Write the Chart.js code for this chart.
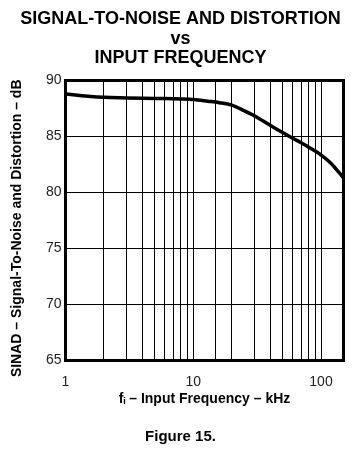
<!DOCTYPE html>
<html>
<head>
<meta charset="utf-8">
<script src="https://cdn.jsdelivr.net/npm/chart.js@4.4.0/dist/chart.umd.min.js"></script>
<style>
  html, body { margin: 0; padding: 0; background: #fff; }
</style>
</head>
<body>
<canvas id="grafico" width="361" height="458"></canvas>
<script>
// dados
const frequencias = [1, 1.5, 2, 3, 5, 8, 10, 13, 16, 20, 25, 30, 40, 50, 60, 70, 80, 90, 100, 120, 150];
const sinad = [88.8, 88.6, 88.5, 88.45, 88.4, 88.35, 88.3, 88.15, 88.02, 87.8, 87.3, 86.85, 86.0, 85.35, 84.85, 84.45, 84.05, 83.7, 83.35, 82.6, 81.3];
const rotulosX = [1, 10, 100];
const titulo = ['SIGNAL-TO-NOISE AND DISTORTION', 'vs', 'INPUT FREQUENCY'];

Chart.defaults.font.family = "'Liberation Sans', Arial, sans-serif";
Chart.defaults.color = '#222';

// moldura grossa em volta da area do grafico
const moldura = {
    id: 'moldura',
    afterDatasetsDraw(chart) {
        const { ctx, chartArea: a } = chart;
        ctx.save();
        ctx.lineWidth = 3;
        ctx.strokeStyle = '#000';
        ctx.strokeRect(a.left, a.top, a.right - a.left, a.bottom - a.top);
        ctx.restore();
    }
};

const ctx = document.getElementById('grafico').getContext('2d');
const grafico = new Chart(ctx, {
    type: 'line',
    data: {
        datasets: [{
            data: frequencias.map((f, i) => ({ x: f, y: sinad[i] })),
            borderColor: '#000',
            borderWidth: 3.5,
            pointRadius: 0,
            fill: false,
            cubicInterpolationMode: 'monotone'
        }]
    },
    options: {
        responsive: false,
        animation: false,
        layout: { padding: 0 },
        plugins: {
            legend: { display: false },
            tooltip: { enabled: false },
            title: {
                display: true,
                text: titulo,
                color: '#000',
                font: { size: 18, weight: 'bold', lineHeight: 1.08 },
                padding: { top: 9.5, bottom: 12.7 }
            },
            subtitle: {
                display: true,
                position: 'bottom',
                text: 'Figure 15.',
                color: '#000',
                font: { size: 15, weight: 'bold', lineHeight: 1.2 },
                padding: { top: 17.5, bottom: 12 }
            }
        },
        scales: {
            x: {
                type: 'logarithmic',
                min: 1,
                max: 150,
                grid: { color: '#000', lineWidth: 1, drawTicks: false },
                border: { display: false },
                ticks: {
                    autoSkip: false,
                    maxRotation: 0,
                    padding: 13,
                    font: { size: 14 },
                    callback: (v) => rotulosX.includes(v) ? String(v) : ''
                },
                title: {
                    display: true,
                    text: 'fᵢ – Input Frequency – kHz',
                    color: '#000',
                    font: { size: 14, weight: 'bold' },
                    padding: { top: 0, bottom: 3 }
                },
                afterFit: (s) => { s.height = 50; }
            },
            y: {
                min: 65,
                max: 90,
                grid: { color: '#000', lineWidth: 1, drawTicks: false },
                border: { display: false },
                ticks: { stepSize: 5, padding: 4, font: { size: 14 } },
                title: {
                    display: true,
                    // espacos no fim empurram o texto um pouco para baixo
                    text: 'SINAD – Signal-To-Noise and Distortion – dB    ',
                    color: '#000',
                    font: { size: 14, weight: 'bold' },
                    padding: { top: 8.5, bottom: 0 }
                },
                afterFit: (s) => { s.width = 65.5; }
            },
            // so para reservar o espaco a direita
            y2: {
                position: 'right',
                display: true,
                grid: { display: false },
                border: { display: false },
                ticks: { display: false },
                afterFit: (s) => { s.width = 17.5; }
            }
        }
    },
    plugins: [moldura]
});
</script>
</body>
</html>
